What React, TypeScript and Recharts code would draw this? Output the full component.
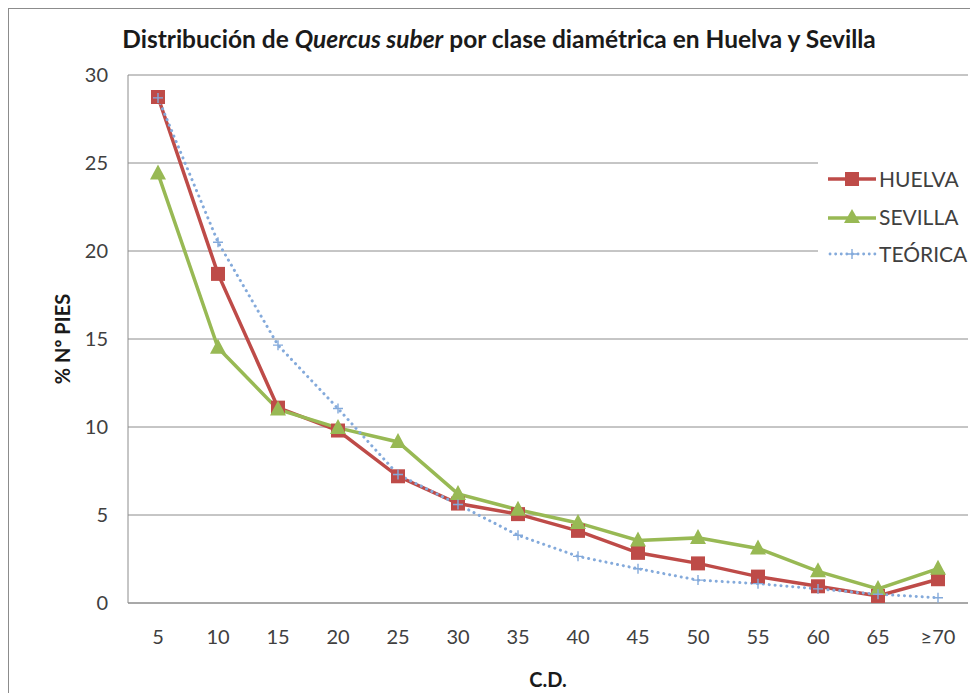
import { LineChart, Line, XAxis, YAxis, CartesianGrid } from 'recharts'

// clases diamétricas y % de pies por provincia
const categories = ['5', '10', '15', '20', '25', '30', '35', '40', '45', '50', '55', '60', '65', '≥70']
const huelva = [28.75, 18.7, 11.1, 9.8, 7.2, 5.65, 5.05, 4.1, 2.85, 2.25, 1.5, 0.95, 0.4, 1.35]
const sevilla = [24.4, 14.5, 11.0, 9.95, 9.15, 6.2, 5.3, 4.55, 3.55, 3.7, 3.1, 1.8, 0.8, 1.95]
const teorica = [28.7, 20.5, 14.65, 11.05, 7.3, 5.6, 3.85, 2.65, 1.95, 1.3, 1.1, 0.8, 0.5, 0.3]
const yTicks = [0, 5, 10, 15, 20, 25, 30]

const data = categories.map((cd, i) => ({
  cd,
  huelva: huelva[i],
  sevilla: sevilla[i],
  teorica: teorica[i]
}))

const RED = '#BE4B48'
const GREEN = '#98B954'
const BLUE = '#84AADB'
const GRID = '#8C8C8C'
const FONT = 'Lato, "Open Sans", sans-serif'

const SquareDot = (props: any) => {
  const { cx, cy, index } = props
  if (cx == null || cy == null) return null
  return <rect key={`sq-${index}`} x={cx - 7} y={cy - 7} width={14} height={14} fill={RED} />
}

const TriangleDot = (props: any) => {
  const { cx, cy, index } = props
  if (cx == null || cy == null) return null
  return (
    <path
      key={`tr-${index}`}
      d={`M${cx},${cy - 9} L${cx + 8},${cy + 6} L${cx - 8},${cy + 6} Z`}
      fill={GREEN}
    />
  )
}

const PlusDot = (props: any) => {
  const { cx, cy, index } = props
  if (cx == null || cy == null) return null
  return (
    <path
      key={`pl-${index}`}
      d={`M${cx - 5},${cy} L${cx + 5},${cy} M${cx},${cy - 5} L${cx},${cy + 5}`}
      stroke={BLUE}
      strokeWidth={1.4}
    />
  )
}

const legendItems = [
  { name: 'HUELVA', kind: 'square' },
  { name: 'SEVILLA', kind: 'triangle' },
  { name: 'TEÓRICA', kind: 'plus' }
]

function LegendBox() {
  return (
    <div
      style={{
        position: 'absolute',
        top: 146,
        left: 809,
        width: 148,
        padding: '5px 0 6px 9px',
        background: 'white',
        zIndex: 2
      }}
    >
      {legendItems.map((it) => (
        <div key={it.name} style={{ display: 'flex', alignItems: 'center', height: 37.5 }}>
          <svg width={50} height={20} style={{ marginRight: 2, flex: 'none' }}>
            {it.kind === 'square' && (
              <>
                <line x1={1} y1={10} x2={49} y2={10} stroke={RED} strokeWidth={3.5} />
                <rect x={18} y={3} width={14} height={14} fill={RED} />
              </>
            )}
            {it.kind === 'triangle' && (
              <>
                <line x1={1} y1={12} x2={49} y2={12} stroke={GREEN} strokeWidth={3.5} />
                <path d="M25,3 L33,17 L17,17 Z" fill={GREEN} />
              </>
            )}
            {it.kind === 'plus' && (
              <>
                <line x1={3} y1={10} x2={49} y2={10} stroke={BLUE} strokeWidth={2.8}
                  strokeDasharray="0.1 5.5" strokeLinecap="round" />
                <path d="M20,10 L30,10 M25,5 L25,15" stroke={BLUE} strokeWidth={1.4} />
              </>
            )}
          </svg>
          <span style={{ fontFamily: FONT, fontSize: 21, color: '#404040' }}>{it.name}</span>
        </div>
      ))}
    </div>
  )
}

export default function App() {
  return (
    <div
      style={{
        position: 'relative',
        width: 980,
        height: 700,
        borderLeft: `1px solid ${GRID}`,
        borderTop: `1px solid ${GRID}`,
        background: 'white'
      }}
    >
      <div
        style={{
          position: 'absolute',
          top: 15,
          left: 0,
          width: 980,
          textAlign: 'center',
          fontFamily: FONT,
          fontWeight: 'bold',
          fontSize: 24.5,
          color: '#1a1a1a',
          zIndex: 2
        }}
      >
        Distribución de <i>Quercus suber</i> por clase diamétrica en Huelva y Sevilla
      </div>
      <LegendBox />
      <LineChart
        width={970}
        height={690}
        data={data}
        margin={{ top: 66, right: 11, left: 0, bottom: 6 }}
      >
        <CartesianGrid vertical={false} stroke={GRID} />
        <XAxis
          dataKey="cd"
          height={90}
          padding={{ left: 30, right: 30 }}
          stroke={GRID}
          tickLine={false}
          tickSize={0}
          tickMargin={27}
          tick={{ fill: '#404040', fontSize: 20, fontFamily: FONT }}
          label={{
            value: 'C.D.',
            position: 'insideBottom',
            offset: 6,
            fill: '#1a1a1a',
            fontWeight: 'bold',
            fontSize: 20,
            fontFamily: FONT
          }}
        />
        <YAxis
          width={119}
          domain={[0, 30]}
          ticks={yTicks}
          stroke={GRID}
          tickLine={false}
          tickSize={0}
          tickMargin={20}
          tick={{ fill: '#404040', fontSize: 20, fontFamily: FONT }}
          label={{
            value: '% Nº PIES',
            angle: -90,
            position: 'center',
            dx: -6,
            fill: '#1a1a1a',
            fontWeight: 'bold',
            fontSize: 20,
            fontFamily: FONT
          }}
        />
        <Line
          dataKey="huelva"
          name="HUELVA"
          stroke={RED}
          strokeWidth={3.5}
          dot={SquareDot}
          activeDot={false}
          isAnimationActive={false}
        />
        <Line
          dataKey="sevilla"
          name="SEVILLA"
          stroke={GREEN}
          strokeWidth={3.5}
          dot={TriangleDot}
          activeDot={false}
          isAnimationActive={false}
        />
        <Line
          dataKey="teorica"
          name="TEÓRICA"
          stroke={BLUE}
          strokeWidth={3}
          strokeDasharray="0.1 5.8"
          strokeLinecap="round"
          dot={PlusDot}
          activeDot={false}
          isAnimationActive={false}
        />
      </LineChart>
    </div>
  )
}
